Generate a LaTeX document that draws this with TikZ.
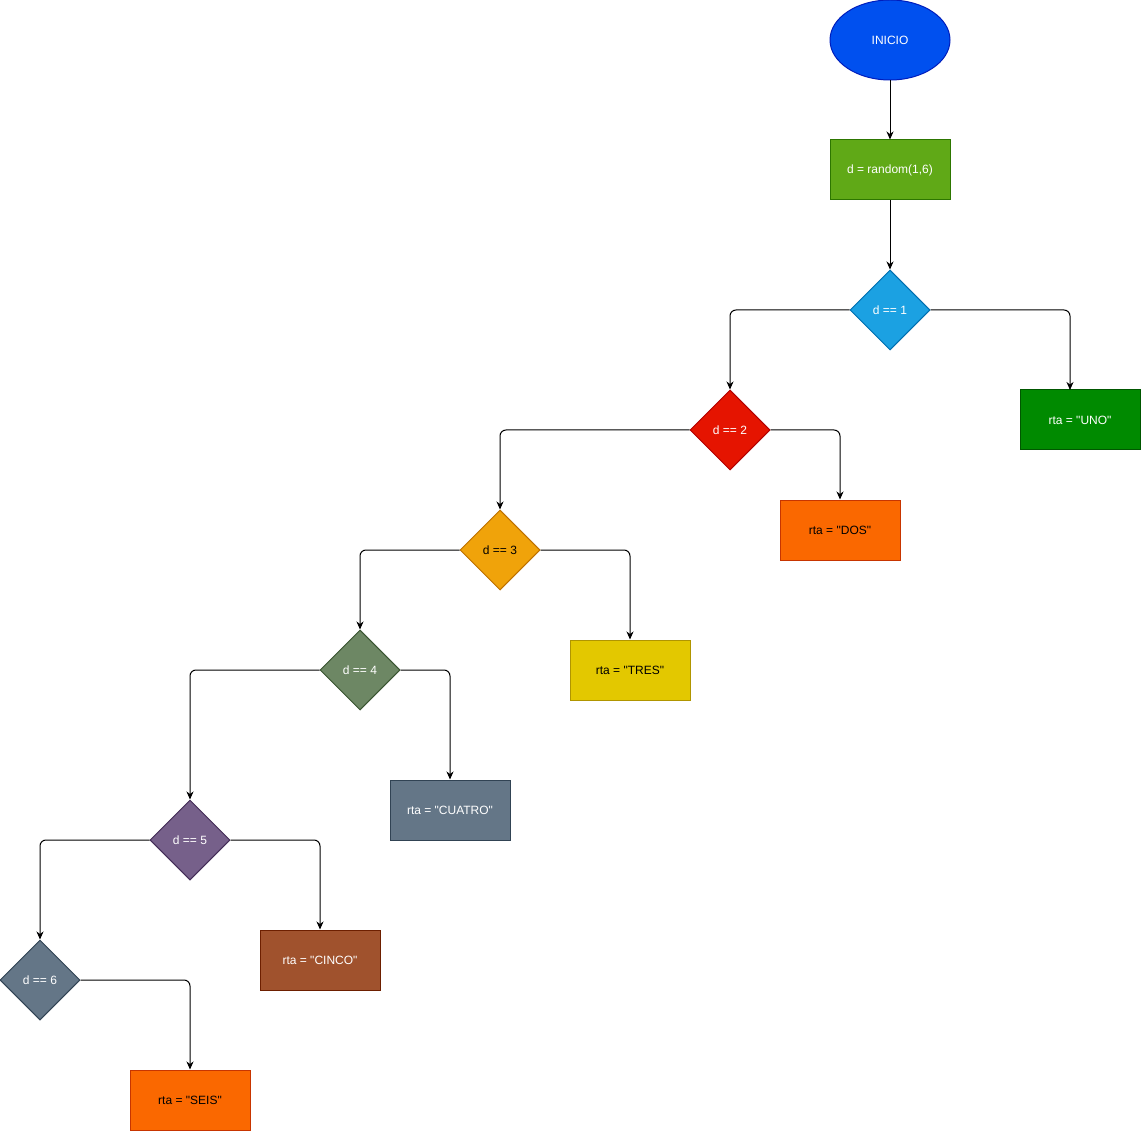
\documentclass[tikz,border=0pt]{standalone}
\usepackage{fontspec}
\setmainfont{Liberation Sans}[Ligatures=TeXOff]
\usetikzlibrary{shapes.geometric,arrows.meta}
\definecolor{cBlueF}{HTML}{0050EF}\definecolor{cBlueS}{HTML}{001DBC}
\definecolor{cGreenF}{HTML}{60A917}\definecolor{cGreenS}{HTML}{2D7600}
\definecolor{cCyanF}{HTML}{1BA1E2}\definecolor{cCyanS}{HTML}{006EAF}
\definecolor{cDGreenF}{HTML}{008A00}\definecolor{cDGreenS}{HTML}{005700}
\definecolor{cRedF}{HTML}{E51400}\definecolor{cRedS}{HTML}{B20000}
\definecolor{cOrangeF}{HTML}{FA6800}\definecolor{cOrangeS}{HTML}{C73500}
\definecolor{cAmberF}{HTML}{F0A30A}\definecolor{cAmberS}{HTML}{BD7000}
\definecolor{cYellowF}{HTML}{E3C800}\definecolor{cYellowS}{HTML}{B09500}
\definecolor{cOliveF}{HTML}{6D8764}\definecolor{cOliveS}{HTML}{3A5431}
\definecolor{cSlateF}{HTML}{647687}\definecolor{cSlateS}{HTML}{314354}
\definecolor{cPurpleF}{HTML}{76608A}\definecolor{cPurpleS}{HTML}{432D57}
\definecolor{cBrownF}{HTML}{A0522D}\definecolor{cBrownS}{HTML}{6D1F00}
\tikzset{
  base/.style={font=\fontsize{12}{14}\selectfont, inner sep=0pt, line width=1pt, text=white},
  procbox/.style={base, rectangle, minimum width=120pt, minimum height=60pt},
  decbox/.style={base, diamond, aspect=1, minimum width=80pt, minimum height=80pt},
  startbox/.style={base, ellipse, minimum width=120pt, minimum height=80pt},
  arr/.style={line width=1pt, rounded corners=6pt, -{Stealth[length=8pt,width=7pt,inset=2.5pt]}},
}
\begin{document}
\begin{tikzpicture}[x=1pt,y=-1pt]
\useasboundingbox (0,0) rectangle (1141,1131);
\node[startbox, fill=cBlueF, draw=cBlueS] (inicio) at (890,40) {INICIO};
\node[procbox, fill=cGreenF, draw=cGreenS] (rand) at (890,170) {d = random(1,6)};
\node[decbox, fill=cCyanF, draw=cCyanS] (d1) at (890,310) {d == 1};
\node[procbox, fill=cDGreenF, draw=cDGreenS] (uno) at (1080,420) {rta = "UNO"};
\coordinate (unoin) at (1070,390);
\node[decbox, fill=cRedF, draw=cRedS] (d2) at (730,430) {d == 2};
\node[procbox, fill=cOrangeF, draw=cOrangeS, text=black] (dos) at (840,530) {rta = "DOS"};
\node[decbox, fill=cAmberF, draw=cAmberS, text=black] (d3) at (500,550) {d == 3};
\node[procbox, fill=cYellowF, draw=cYellowS, text=black] (tres) at (630,670) {rta = "TRES"};
\node[decbox, fill=cOliveF, draw=cOliveS] (d4) at (360,670) {d == 4};
\node[procbox, fill=cSlateF, draw=cSlateS] (cuatro) at (450,810) {rta = "CUATRO"};
\node[decbox, fill=cPurpleF, draw=cPurpleS] (d5) at (190,840) {d == 5};
\node[procbox, fill=cBrownF, draw=cBrownS] (cinco) at (320,960) {rta = "CINCO"};
\node[decbox, fill=cSlateF, draw=cSlateS] (d6) at (40,980) {d == 6};
\node[procbox, fill=cOrangeF, draw=cOrangeS, text=black] (seis) at (190,1100) {rta = "SEIS"};
\draw[arr] (inicio.south) -- (rand.north);
\draw[arr] (rand.south) -- (d1.north);
\draw[arr] (d1.west) -| (d2.north);
\draw[arr] (d1.east) -| (unoin);
\draw[arr] (d2.west) -| (d3.north);
\draw[arr] (d2.east) -| (dos.north);
\draw[arr] (d3.west) -| (d4.north);
\draw[arr] (d3.east) -| (tres.north);
\draw[arr] (d4.west) -| (d5.north);
\draw[arr] (d4.east) -| (cuatro.north);
\draw[arr] (d5.west) -| (d6.north);
\draw[arr] (d5.east) -| (cinco.north);
\draw[arr] (d6.east) -| (seis.north);
\end{tikzpicture}
\end{document}
